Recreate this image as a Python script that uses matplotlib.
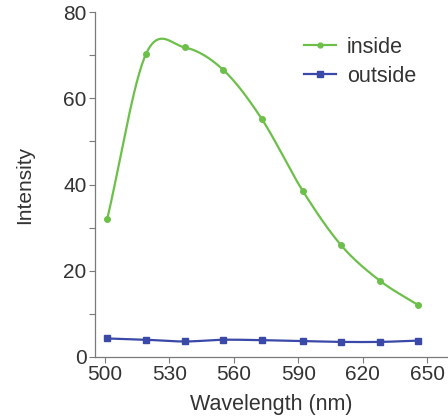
import numpy as np
import matplotlib
matplotlib.use("Agg")
import matplotlib.pyplot as plt
from matplotlib.ticker import MultipleLocator

plt.rcParams["font.family"] = ["Liberation Sans", "DejaVu Sans"]

wavelength = [501, 519, 537, 555, 573, 592, 610, 628, 646]
inside = [32.0, 70.2, 71.8, 66.6, 55.2, 38.6, 25.9, 17.7, 12.0]
outside = [4.3, 4.0, 3.6, 4.0, 3.9, 3.7, 3.5, 3.5, 3.8]

GREEN = "#6cc04a"
BLUE = "#3a48a8"
TEXT = "#333333"
AXIS = "#7a7a7a"


def smooth(x, y, n=30):
    # Catmull-Rom curve through the points (smoothed line look)
    p = np.column_stack([x, y]).astype(float)
    ext = np.vstack([2 * p[0] - p[1], p, 2 * p[-1] - p[-2]])
    t = np.linspace(0, 1, n)[:, None]
    out = []
    for i in range(1, len(ext) - 2):
        p0, p1, p2, p3 = ext[i - 1], ext[i], ext[i + 1], ext[i + 2]
        m1 = (p2 - p0) / 2
        m2 = (p3 - p1) / 2
        h00 = 2 * t**3 - 3 * t**2 + 1
        h10 = t**3 - 2 * t**2 + t
        h01 = -2 * t**3 + 3 * t**2
        h11 = t**3 - t**2
        out.append(h00 * p1 + h10 * m1 + h01 * p2 + h11 * m2)
    c = np.vstack(out)
    return c[:, 0], c[:, 1]


fig = plt.figure(figsize=(4.48, 4.17), dpi=100)
ax = fig.add_axes([95 / 448, 1 - 357 / 417, 352 / 448, 345 / 417])

for vals, col, mk, ms, lab in [
    (inside, GREEN, "o", 4, "inside"),
    (outside, BLUE, "s", 4.5, "outside"),
]:
    sx, sy = smooth(wavelength, vals)
    ax.plot(sx, sy, color=col, linewidth=1.6, solid_capstyle="round")
    ax.plot(wavelength, vals, linestyle="none", marker=mk, color=col, markersize=ms)
    ax.plot([], [], color=col, marker=mk, markersize=ms - 0.5, linewidth=1.6, label=lab)

ax.set_xlim(495.3, 659.3)
ax.set_ylim(0, 80)
ax.set_xticks([500, 530, 560, 590, 620, 650])
ax.yaxis.set_major_locator(MultipleLocator(20))
ax.yaxis.set_minor_locator(MultipleLocator(10))

for s in ["top", "right"]:
    ax.spines[s].set_visible(False)
for s in ["left", "bottom"]:
    ax.spines[s].set_color(AXIS)
    ax.spines[s].set_linewidth(0.9)

ax.tick_params(axis="both", which="both", direction="out", length=4,
               width=0.8, color=AXIS, labelsize=15, labelcolor=TEXT, pad=2)

ax.set_xlabel("Wavelength (nm)", fontsize=15.5, color=TEXT, labelpad=7)
ax.set_ylabel("Intensity", fontsize=15, color=TEXT, labelpad=21)

leg = ax.legend(loc="upper left", bbox_to_anchor=(304 / 448, 1 - 37 / 417),
                bbox_transform=fig.transFigure, borderaxespad=0, borderpad=0,
                frameon=False, fontsize=15.5, handlelength=1.5, handletextpad=0.5,
                labelspacing=0.35, labelcolor=TEXT)

fig.savefig("out.png", dpi=100)
